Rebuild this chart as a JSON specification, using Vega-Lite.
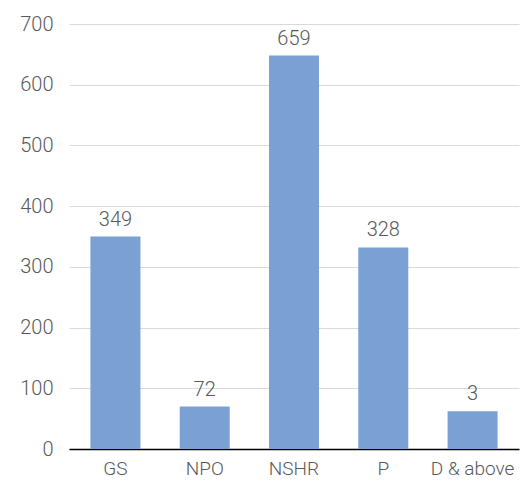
{
  "$schema": "https://vega.github.io/schema/vega-lite/v6.json",
  "width": 450,
  "height": 425,
  "autosize": {"type": "none"},
  "padding": {"left": 69, "top": 24, "right": 6, "bottom": 35},
  "background": "white",
  "config": {
    "view": {"stroke": null},
    "font": "Roboto"
  },
  "data": {
    "values": [
      {"category": "GS", "value": 350, "label": "349"},
      {"category": "NPO", "value": 70, "label": "72"},
      {"category": "NSHR", "value": 648, "label": "659"},
      {"category": "P", "value": 332, "label": "328"},
      {"category": "D & above", "value": 62, "label": "3"}
    ]
  },
  "encoding": {
    "x": {
      "field": "category",
      "type": "nominal",
      "sort": null,
      "scale": {"paddingInner": 0.44, "paddingOuter": 0.24},
      "axis": {
        "title": null,
        "labelAngle": 0,
        "labelFont": "Roboto",
        "labelFontSize": 19,
        "labelFontWeight": 300,
        "labelColor": "#595959",
        "labelPadding": 10,
        "labelOverlap": false,
        "ticks": false,
        "domain": true,
        "domainColor": "#000000",
        "domainWidth": 1.5,
        "grid": false
      }
    },
    "y": {
      "field": "value",
      "type": "quantitative",
      "scale": {"domain": [0, 700], "nice": false},
      "axis": {
        "title": null,
        "values": [0, 100, 200, 300, 400, 500, 600, 700],
        "labelFont": "Roboto",
        "labelFontSize": 20,
        "labelFontWeight": 300,
        "labelColor": "#595959",
        "labelPadding": 16,
        "ticks": false,
        "domain": false,
        "grid": true,
        "gridColor": "#d9d9d9",
        "gridWidth": 1
      }
    }
  },
  "layer": [
    {
      "mark": {"type": "bar", "color": "#7ba0d4"}
    },
    {
      "mark": {
        "type": "text",
        "baseline": "alphabetic",
        "dy": -11,
        "fontSize": 20,
        "fontWeight": 300,
        "color": "#595959",
        "font": "Roboto"
      },
      "encoding": {"text": {"field": "label"}}
    }
  ]
}
